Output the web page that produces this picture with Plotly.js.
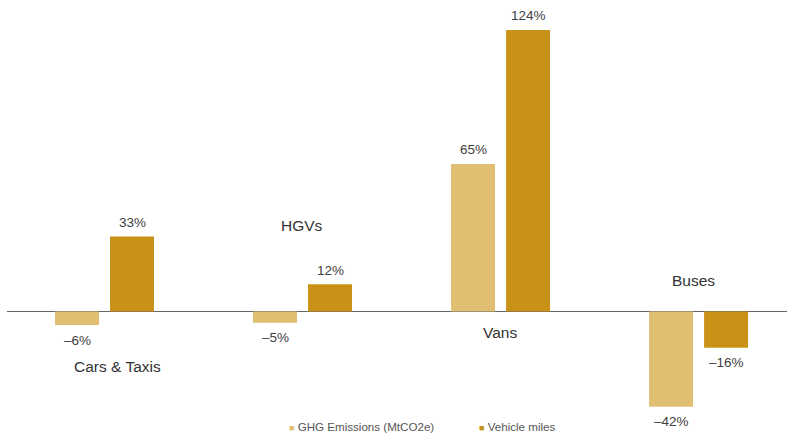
<!DOCTYPE html>
<html>
<head>
<meta charset="utf-8">
<script src="https://cdn.plot.ly/plotly-3.0.1.min.js"></script>
<style>
  html, body { margin: 0; padding: 0; background: #fff; }
  #chart { width: 787px; height: 435px; }
</style>
</head>
<body>
<div id="chart"></div>
<script>
// Change in emissions and vehicle miles by vehicle type
const categories = ['Cars & Taxis', 'HGVs', 'Vans', 'Buses'];
const seriesNames = ['GHG Emissions (MtCO2e)', 'Vehicle miles'];
const ghgEmissions = [-6, -5, 65, -42];
const vehicleMiles = [33, 12, 124, -16];

const colors = ['#E0BF73', '#C99217'];
const barWidth = 0.222;
const offsets = [-0.2525, 0.0253];
const font = '"Liberation Sans", Arial, sans-serif';

const series = [ghgEmissions, vehicleMiles];

const traces = series.map((vals, s) => ({
  type: 'bar',
  x: categories,
  y: vals,
  name: seriesNames[s],
  width: barWidth,
  offset: offsets[s],
  marker: { color: colors[s], line: { width: 0 } },
  showlegend: false,
  hoverinfo: 'x+y'
}));

const fmt = v => (v < 0 ? '\u2013' + Math.abs(v) : String(v)) + '%';

const annotations = [];
// value labels above/below each bar
series.forEach((vals, s) => {
  vals.forEach((v, i) => {
    annotations.push({
      x: i + offsets[s] + barWidth / 2,
      y: v,
      xref: 'x', yref: 'y',
      text: fmt(v),
      showarrow: false,
      yshift: v >= 0 ? 14 : -15,
      font: { family: font, size: 13.5, color: '#404040' }
    });
  });
});

// category names floating near their groups
const catLabelPos = [
  { y: -24.2, xshift: 12 },
  { y: 38.0, xshift: -1 },
  { y: -9.3, xshift: -1 },
  { y: 13.5, xshift: -6 }
];
categories.forEach((c, i) => {
  annotations.push({
    x: i, y: catLabelPos[i].y, xref: 'x', yref: 'y',
    xshift: catLabelPos[i].xshift,
    text: c, showarrow: false,
    font: { family: font, size: 15.5, color: '#333333' }
  });
});

// legend along the bottom
const legendX = [0.3585, 0.6025];
seriesNames.forEach((n, s) => {
  annotations.push({
    x: legendX[s], y: 0.0184, xref: 'paper', yref: 'paper',
    xanchor: 'left', yanchor: 'middle',
    text: '<span style="color:' + colors[s] + ';font-size:9px">\u25A0</span> ' + n,
    showarrow: false,
    font: { family: font, size: 11.6, color: '#555555' }
  });
});

const layout = {
  width: 787,
  height: 435,
  margin: { l: 7, r: 0, t: 0, b: 0 },
  paper_bgcolor: '#ffffff',
  plot_bgcolor: '#ffffff',
  showlegend: false,
  barmode: 'group',
  xaxis: {
    type: 'category',
    range: [-0.495, 3.444],
    showgrid: false, showticklabels: false, ticks: '',
    zeroline: false, showline: false
  },
  yaxis: {
    range: [-54.4, 137.2],
    showgrid: false, showticklabels: false, ticks: '',
    zeroline: true, zerolinecolor: '#666666', zerolinewidth: 1.5,
    showline: false
  },
  annotations: annotations
};

Plotly.newPlot('chart', traces, layout, { displayModeBar: false, staticPlot: true });
</script>
</body>
</html>
